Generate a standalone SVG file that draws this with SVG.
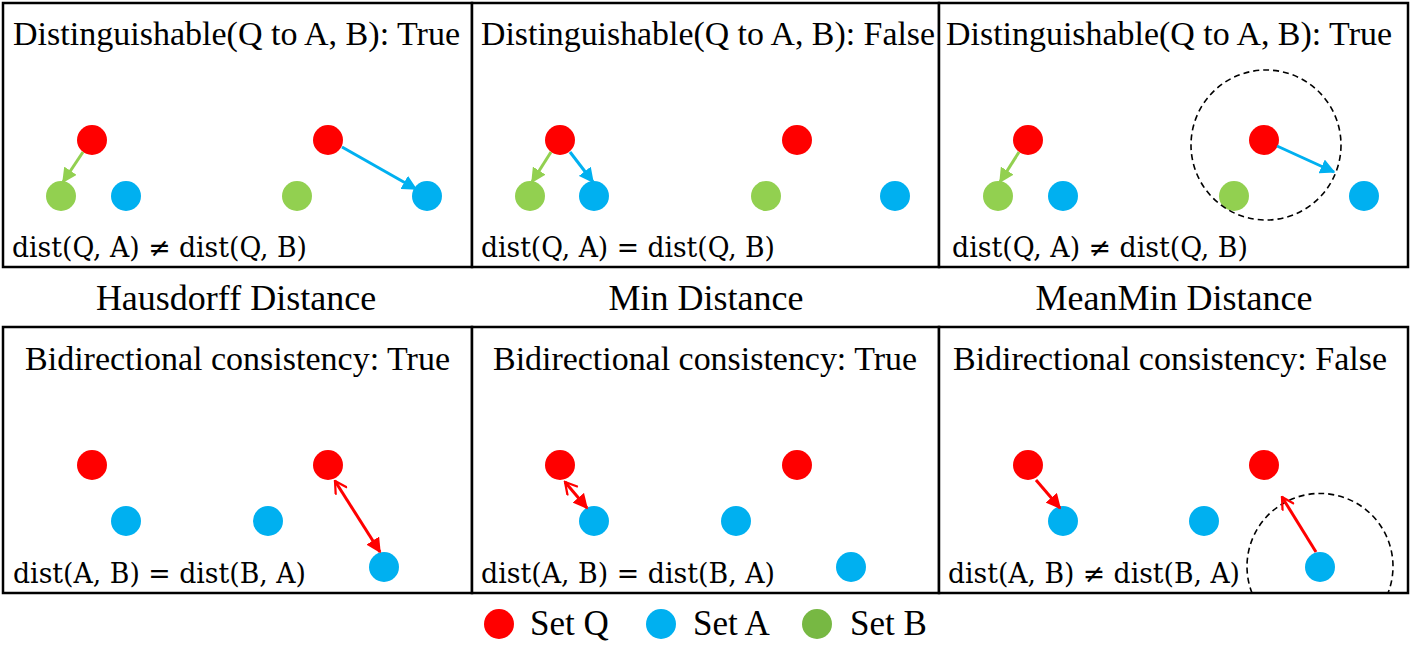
<svg xmlns="http://www.w3.org/2000/svg" width="1412" height="645" viewBox="0 0 1412 645">
<style>
.box{fill:#fff;stroke:#000;stroke-width:2.5}
.t{font-family:"Liberation Serif","Times New Roman",serif;font-size:34px;fill:#000}
.m{font-family:"Liberation Serif","Times New Roman",serif;font-size:36px;fill:#000}
.lg{font-family:"Liberation Serif","Times New Roman",serif;font-size:35px;fill:#000}
.f{font-family:"DejaVu Serif","Liberation Serif",serif;font-size:27px;fill:#000}
.q{fill:#ff0000}.a{fill:#00b0f0}.b{fill:#92d050}.bl{fill:#77b843}
.dash{fill:none;stroke:#000;stroke-width:1.6;stroke-dasharray:6 4}
.ln{fill:none;stroke-width:3}
</style>
<defs>
<marker id="hg" viewBox="0 0 10 10" refX="9" refY="5" markerWidth="5" markerHeight="5" orient="auto" markerUnits="strokeWidth"><path d="M0,0 L10,5 L0,10 z" fill="#92d050"/></marker>
<marker id="hb" viewBox="0 0 10 10" refX="9" refY="5" markerWidth="5" markerHeight="5" orient="auto" markerUnits="strokeWidth"><path d="M0,0 L10,5 L0,10 z" fill="#00b0f0"/></marker>
<marker id="hr" viewBox="0 0 10 10" refX="9" refY="5" markerWidth="5" markerHeight="5" orient="auto" markerUnits="strokeWidth"><path d="M0,0 L10,5 L0,10 z" fill="#ff0000"/></marker>
<marker id="or" viewBox="0 0 10 10" refX="9" refY="5" markerWidth="5" markerHeight="5" orient="auto-start-reverse" markerUnits="strokeWidth"><path d="M1,0.5 L9,5 L1,9.5" fill="none" stroke="#ff0000" stroke-width="1.5"/></marker>
</defs>

<g id="panel-hausdorff-top">
<rect class="box" x="3" y="3" width="469" height="264"/>
<text class="t" x="13" y="45" textLength="447" lengthAdjust="spacingAndGlyphs">Distinguishable(Q to A, B): True</text>
<circle class="q" cx="92" cy="140" r="15"/><circle class="b" cx="61" cy="196" r="15"/><circle class="a" cx="126" cy="196" r="15"/>
<circle class="q" cx="328" cy="140" r="15"/><circle class="b" cx="297" cy="196" r="15"/><circle class="a" cx="427" cy="196" r="15"/>
<text class="f" x="12" y="257" textLength="295" lengthAdjust="spacingAndGlyphs">dist(Q, A) ≠ dist(Q, B)</text>
</g>
<g id="panel-min-top">
<rect class="box" x="472" y="3" width="467" height="264"/>
<text class="t" x="481" y="45" textLength="454" lengthAdjust="spacingAndGlyphs">Distinguishable(Q to A, B): False</text>
<circle class="q" cx="560" cy="140" r="15"/><circle class="b" cx="530" cy="196" r="15"/><circle class="a" cx="594" cy="196" r="15"/>
<circle class="q" cx="797" cy="140" r="15"/><circle class="b" cx="766" cy="196" r="15"/><circle class="a" cx="895" cy="196" r="15"/>
<text class="f" x="481" y="257" textLength="294" lengthAdjust="spacingAndGlyphs">dist(Q, A) = dist(Q, B)</text>
</g>
<g id="panel-meanmin-top">
<rect class="box" x="939" y="3" width="469" height="264"/>
<text class="t" x="946" y="45" textLength="446" lengthAdjust="spacingAndGlyphs">Distinguishable(Q to A, B): True</text>
<circle class="q" cx="1028" cy="140" r="15"/><circle class="b" cx="998" cy="196" r="15"/><circle class="a" cx="1063" cy="196" r="15"/>
<circle class="q" cx="1264" cy="140" r="15"/><circle class="b" cx="1234" cy="196" r="15"/><circle class="a" cx="1364" cy="196" r="15"/>
<circle class="dash" cx="1266" cy="145" r="75"/>
<text class="f" x="952" y="257" textLength="296" lengthAdjust="spacingAndGlyphs">dist(Q, A) ≠ dist(Q, B)</text>
</g>

<text class="m" x="236" y="310" text-anchor="middle">Hausdorff Distance</text>
<text class="m" x="706" y="310" text-anchor="middle">Min Distance</text>
<text class="m" x="1174" y="310" text-anchor="middle">MeanMin Distance</text>

<g id="panel-hausdorff-bottom">
<rect class="box" x="3" y="327" width="469" height="266"/>
<text class="t" x="25" y="370" textLength="425" lengthAdjust="spacingAndGlyphs">Bidirectional consistency: True</text>
<circle class="q" cx="92" cy="465" r="15"/><circle class="a" cx="126" cy="521" r="15"/>
<circle class="a" cx="268" cy="521" r="15"/><circle class="q" cx="328" cy="465" r="15"/><circle class="a" cx="384" cy="567" r="15"/>
<text class="f" x="13" y="583" textLength="293" lengthAdjust="spacingAndGlyphs">dist(A, B) = dist(B, A)</text>
</g>
<g id="panel-min-bottom">
<rect class="box" x="472" y="327" width="467" height="266"/>
<text class="t" x="493" y="370" textLength="424" lengthAdjust="spacingAndGlyphs">Bidirectional consistency: True</text>
<circle class="q" cx="560" cy="465" r="15"/><circle class="a" cx="594" cy="521" r="15"/>
<circle class="a" cx="736" cy="521" r="15"/><circle class="q" cx="797" cy="465" r="15"/><circle class="a" cx="851" cy="567" r="15"/>
<text class="f" x="481" y="583" textLength="294" lengthAdjust="spacingAndGlyphs">dist(A, B) = dist(B, A)</text>
</g>
<g id="panel-meanmin-bottom">
<rect class="box" x="939" y="327" width="469" height="266"/>
<text class="t" x="953" y="370" textLength="434" lengthAdjust="spacingAndGlyphs">Bidirectional consistency: False</text>
<circle class="q" cx="1028" cy="465" r="15"/><circle class="a" cx="1063" cy="521" r="15"/>
<circle class="a" cx="1204" cy="521" r="15"/><circle class="q" cx="1264" cy="465" r="15"/><circle class="a" cx="1320" cy="567" r="15"/>
<path class="dash" d="M1252,593 A73,73 0 1 1 1388,593"/>
<text class="f" x="948" y="583" textLength="292" lengthAdjust="spacingAndGlyphs">dist(A, B) ≠ dist(B, A)</text>
</g>

<g id="connectors">
<line class="ln" stroke="#92d050" x1="83" y1="152" x2="63" y2="182" marker-end="url(#hg)"/>
<line class="ln" stroke="#00b0f0" x1="342" y1="147" x2="416" y2="189" marker-end="url(#hb)"/>
<line class="ln" stroke="#92d050" x1="551" y1="152" x2="532" y2="182" marker-end="url(#hg)"/>
<line class="ln" stroke="#00b0f0" x1="570" y1="152" x2="593" y2="182" marker-end="url(#hb)"/>
<line class="ln" stroke="#92d050" x1="1019" y1="152" x2="1000" y2="182" marker-end="url(#hg)"/>
<line class="ln" stroke="#00b0f0" x1="1277" y1="146" x2="1334" y2="172" marker-end="url(#hb)"/>
<line class="ln" stroke="#ff0000" x1="335" y1="481" x2="380" y2="552" marker-start="url(#or)" marker-end="url(#hr)"/>
<line class="ln" stroke="#ff0000" x1="565" y1="482" x2="587" y2="508" marker-start="url(#or)" marker-end="url(#hr)"/>
<line class="ln" stroke="#ff0000" x1="1036" y1="480" x2="1060" y2="508" marker-end="url(#hr)"/>
<line class="ln" stroke="#ff0000" x1="1316" y1="552" x2="1282" y2="497" marker-end="url(#or)"/>
</g>

<g id="legend">
<circle class="q" cx="499" cy="624" r="15"/>
<text class="lg" x="530" y="635">Set Q</text>
<circle class="a" cx="661" cy="624" r="15"/>
<text class="lg" x="693" y="635">Set A</text>
<circle class="bl" cx="817" cy="624" r="15"/>
<text class="lg" x="850" y="635">Set B</text>
</g>
</svg>
